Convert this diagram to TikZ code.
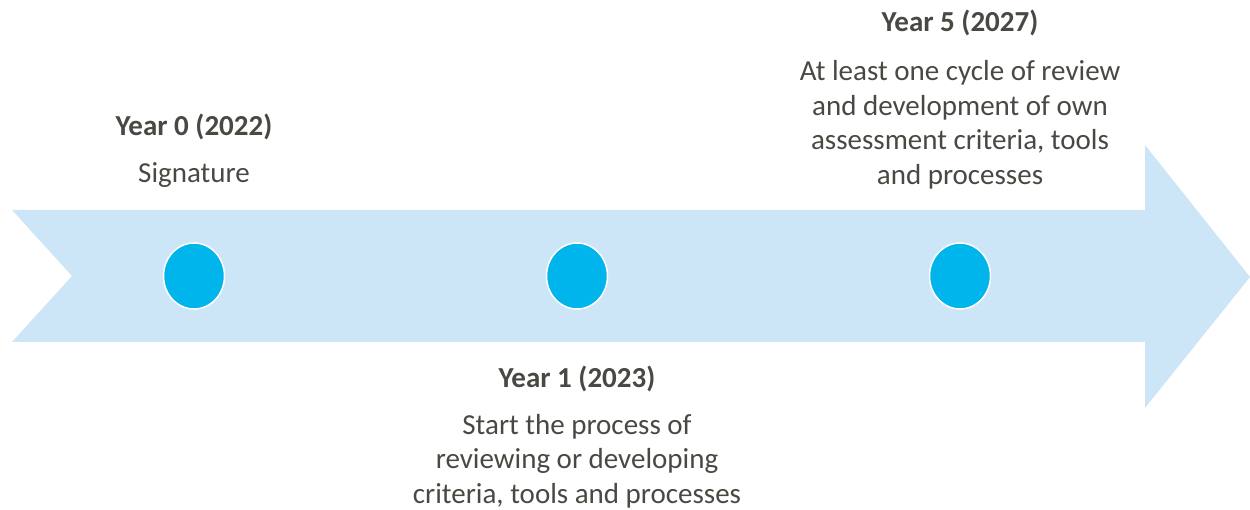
\documentclass[tikz,border=0pt]{standalone}
\usepackage{fontspec}
\setmainfont{Carlito}
\usetikzlibrary{shapes.geometric}
\definecolor{bandblue}{RGB}{204,229,247}
\definecolor{dotblue}{RGB}{0,181,236}
\definecolor{textgray}{RGB}{73,73,67}

\begin{document}
\begin{tikzpicture}[x=1pt, y=-1pt,
    dot/.style={ellipse, fill=dotblue, draw=white, line width=1.5pt, minimum width=61pt, minimum height=66pt, inner sep=0pt},
    yeartitle/.style={anchor=base, inner sep=0pt, text=textgray, font=\fontsize{29}{34.5}\selectfont\bfseries},
    yeartext/.style={anchor=base, inner sep=0pt, align=center, text=textgray, font=\fontsize{29}{34.5}\selectfont}]
    \useasboundingbox (0, 0) rectangle (1250, 510);
    \fill [bandblue] (12, 210) -- (1145, 210) -- (1145, 145) -- (1250, 277) -- (1145, 408) -- (1145, 342) -- (12, 342) -- (72, 276) -- cycle;
    \node [dot] (dot0) at (194, 276) {};
    \node [dot] (dot1) at (577, 276) {};
    \node [dot] (dot5) at (960, 276) {};
    \node [yeartitle] (year0) at (194, 136) {Year 0 (2022)};
    \node [yeartext] (text0) at (194, 183) {Signature};
    \node [yeartitle] (year1) at (577, 388) {Year 1 (2023)};
    \node [yeartext] (text1) at (577, 503) {Start the process of\\reviewing or developing\\criteria, tools and processes};
    \node [yeartitle] (year5) at (960, 32) {Year 5 (2027)};
    \node [yeartext] (text5) at (960, 184.5) {At least one cycle of review\\and development of own\\assessment criteria, tools\\and processes};
\end{tikzpicture}
\end{document}
